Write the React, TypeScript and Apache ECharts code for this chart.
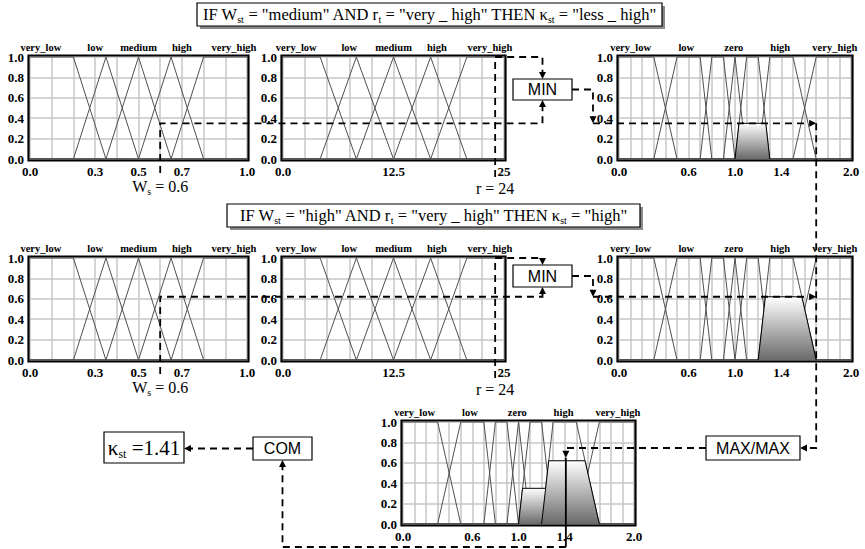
import React, { useEffect, useRef } from "react";
import * as echarts from "echarts";

// ---------------- data ----------------
const wTerms = ["very_low", "low", "medium", "high", "very_high"];
const wTermPos = [0.05, 0.3, 0.5, 0.7, 0.94];
const wMF = [
  [0, 0, 0.2, 0.35],
  [0.2, 0.35, 0.35, 0.5],
  [0.35, 0.5, 0.5, 0.65],
  [0.5, 0.65, 0.65, 0.8],
  [0.65, 0.8, 1, 1],
];
const wTickValues = [0, 0.3, 0.5, 0.7, 1];
const wTickLabels = ["0.0", "0.3", "0.5", "0.7", "1.0"];

const rTerms = ["very_low", "low", "medium", "high", "very_high"];
const rTermPos = [1.5, 7.5, 12.5, 17.4, 23.4];
const rMF = [
  [0, 0, 4.2, 8.3],
  [4.2, 8.3, 8.3, 12.5],
  [8.3, 12.5, 12.5, 16.7],
  [12.5, 16.7, 16.7, 20.8],
  [16.7, 20.8, 25, 25],
];
const rTickValues = [0, 12.5, 25];
const rTickLabels = ["0.0", "12.5", "25"];

const kTerms = ["very_low", "low", "zero", "high", "very_high"];
const kTermPos = [0.1, 0.58, 0.99, 1.39, 1.86];
const kSets = ["very_low", "low", "less_low", "zero", "less_high", "high", "very_high"];
const kMF = [
  [0, 0, 0.3, 0.5],
  [0.3, 0.5, 0.7, 0.8],
  [0.7, 0.8, 0.9, 1.0],
  [0.9, 1.0, 1.0, 1.1],
  [1.0, 1.1, 1.2, 1.3],
  [1.2, 1.3, 1.5, 1.7],
  [1.5, 1.7, 2, 2],
];
const kTickValues = [0, 0.6, 1.0, 1.4, 2.0];
const kTickLabels = ["0.0", "0.6", "1.0", "1.4", "2.0"];

const wInput = 0.6;
const rInput = 24;
const ruleOutputs = ["less_high", "high"];
const ruleStrength = [0.35, 0.62];
const kappaResult = 1.41;

const ruleTexts = [
  'IF W{s|st} = "medium" AND r{s|t} = "very _ high" THEN κ{s|st} = "less _ high"',
  'IF W{s|st} = "high" AND r{s|t} = "very _ high" THEN κ{s|st} = "high"',
];

// ---------------- layout ----------------
const SERIF = "'Liberation Serif', 'Times New Roman', serif";
const SANS = "'Liberation Sans', Arial, sans-serif";

const grids = [
  { left: 30, top: 57, width: 217, height: 102 },
  { left: 283, top: 57, width: 221, height: 102 },
  { left: 619, top: 57, width: 232, height: 102 },
  { left: 30, top: 258, width: 217, height: 102 },
  { left: 283, top: 258, width: 221, height: 102 },
  { left: 619, top: 258, width: 232, height: 102 },
  { left: 403, top: 422, width: 231, height: 102 },
];
const gridKind = ["w", "r", "k", "w", "r", "k", "k"];

const kinds: any = {
  w: { mf: wMF, max: 1, interval: 0.1, tv: wTickValues, tl: wTickLabels, terms: wTerms, pos: wTermPos },
  r: { mf: rMF, max: 25, interval: 2.5, tv: rTickValues, tl: rTickLabels, terms: rTerms, pos: rTermPos },
  k: { mf: kMF, max: 2, interval: 0.1, tv: kTickValues, tl: kTickLabels, terms: kTerms, pos: kTermPos },
};

const ruleBoxes = [
  { x: 197, y: 3, w: 465, h: 23 },
  { x: 227, y: 204, w: 413, h: 23 },
];
const minBoxes = [
  { x: 513, y: 79, w: 59, h: 21 },
  { x: 513, y: 265, w: 59, h: 22 },
];
const maxBox = { x: 706, y: 436, w: 94, h: 24 };
const comBox = { x: 253, y: 437, w: 59, h: 23 };
const kapBox = { x: 104, y: 432, w: 80, h: 31 };
const turnX = 593;

// ---------------- helpers ----------------
function mu(x: number, p: number[]) {
  const [a, b, c, d] = p;
  if (x < a || x > d) return 0;
  if (x >= b && x <= c) return 1;
  if (x < b) return (x - a) / (b - a);
  return (d - x) / (d - c);
}
function mfLine(p: number[], min: number, max: number) {
  const xs = Array.from(new Set([min, ...p, max]))
    .filter((v) => v >= min && v <= max)
    .sort((u, v) => u - v);
  return xs.map((x) => [x, mu(x, p)]);
}
function clipped(p: number[], alpha: number) {
  const [a, b, c, d] = p;
  return [
    [a, 0],
    [a + alpha * (b - a), alpha],
    [d - alpha * (d - c), alpha],
    [d, 0],
  ];
}

const dashStyle = { stroke: "#000", lineWidth: 1.8, lineDash: [7, 5], fill: "none" };
function dline(points: number[][]) {
  return { type: "polyline", z: 100, shape: { points }, style: { ...dashStyle } };
}
function sline(points: number[][]) {
  return { type: "polyline", z: 100, shape: { points }, style: { stroke: "#000", lineWidth: 1.8, fill: "none" } };
}
function arrow(x: number, y: number, dir: string) {
  const L = 7,
    H = 3.5;
  let pts: number[][] = [];
  if (dir === "down") pts = [[x, y], [x - H, y - L], [x + H, y - L]];
  if (dir === "up") pts = [[x, y], [x - H, y + L], [x + H, y + L]];
  if (dir === "right") pts = [[x, y], [x - L, y - H], [x - L, y + H]];
  if (dir === "left") pts = [[x, y], [x + L, y - H], [x + L, y + H]];
  return { type: "polygon", z: 101, shape: { points: pts }, style: { fill: "#000" } };
}
function boxRect(b: any, shadow = false) {
  const out: any[] = [];
  if (shadow)
    out.push({ type: "rect", z: 99, shape: { x: b.x + 3, y: b.y + 3, width: b.w, height: b.h }, style: { fill: "#8a8a8a" } });
  out.push({ type: "rect", z: 100, shape: { x: b.x, y: b.y, width: b.w, height: b.h }, style: { fill: "#fff", stroke: "#000", lineWidth: 1.2 } });
  return out;
}
function richText(x: number, y: number, text: string, size: number, sub: number, family = SERIF, align = "center") {
  return {
    type: "text",
    z: 102,
    x,
    y,
    style: {
      text,
      fontFamily: family,
      fontSize: size,
      fill: "#000",
      align,
      verticalAlign: "middle",
      lineHeight: size + 4,
      rich: {
        s: { fontFamily: family, fontSize: sub, fill: "#000", verticalAlign: "bottom", lineHeight: sub },
      },
    },
  };
}

export default function App() {
  const ref = useRef<HTMLDivElement>(null);
  useEffect(() => {
    const chart = echarts.init(ref.current!, undefined, { renderer: "svg" });

    const xAxis: any[] = [];
    const yAxis: any[] = [];
    const series: any[] = [];
    const gridOpt: any[] = [];

    grids.forEach((g, gi) => {
      const K = kinds[gridKind[gi]];
      gridOpt.push({ ...g, show: false, containLabel: false });
      xAxis.push({
        type: "value",
        gridIndex: gi,
        min: 0,
        max: K.max,
        interval: K.interval,
        axisLine: { show: false },
        axisTick: { show: false },
        splitLine: { show: true, lineStyle: { color: "#c6c6c6", width: 1.5 } },
        axisLabel: {
          margin: 6,
          color: "#000",
          fontFamily: SERIF,
          fontWeight: "bold",
          fontSize: 13,
          showMinLabel: true,
          showMaxLabel: true,
          formatter: (v: number) => {
            const i = K.tv.findIndex((t: number) => Math.abs(t - v) < 1e-6);
            return i >= 0 ? K.tl[i] : "";
          },
        },
      });
      yAxis.push({
        type: "value",
        gridIndex: gi,
        min: 0,
        max: 1,
        interval: 0.2,
        axisLine: { show: false },
        axisTick: { show: false },
        splitLine: { show: true, lineStyle: { color: "#c6c6c6", width: 1.5 } },
        axisLabel: {
          margin: 6,
          color: "#000",
          fontFamily: SERIF,
          fontWeight: "bold",
          fontSize: 13,
          formatter: (v: number) => v.toFixed(1),
        },
      });
      K.mf.forEach((p: number[], mi: number) => {
        series.push({
          type: "line",
          name: `g${gi}-mf${mi}`,
          xAxisIndex: gi,
          yAxisIndex: gi,
          data: mfLine(p, 0, K.max),
          symbol: "none",
          clip: false,
          silent: true,
          z: 2,
          lineStyle: { color: "#505050", width: 1 },
        });
      });
    });

    // shaded (clipped) consequents
    const shaded: [number, number][] = [
      [2, 0],
      [5, 1],
      [6, 0],
      [6, 1],
    ];
    shaded.forEach(([gi, ri], n) => {
      const p = kMF[kSets.indexOf(ruleOutputs[ri])];
      series.push({
        type: "line",
        name: `shade${n}`,
        xAxisIndex: gi,
        yAxisIndex: gi,
        data: clipped(p, ruleStrength[ri]),
        symbol: "none",
        silent: true,
        z: 3 + n,
        lineStyle: { color: "#000", width: 1 },
        areaStyle: {
          opacity: 1,
          color: new echarts.graphic.LinearGradient(0, 0, 0, 1, [
            { offset: 0, color: "#ffffff" },
            { offset: 1, color: "#6a6a6a" },
          ]),
        },
      });
    });

    chart.setOption({
      animation: false,
      backgroundColor: "#fff",
      textStyle: { fontFamily: SERIF },
      grid: gridOpt,
      xAxis,
      yAxis,
      series,
    });

    const P = (g: number, x: number, y: number) => chart.convertToPixel({ gridIndex: g }, [x, y]) as number[];
    const els: any[] = [];

    // frames and term labels
    grids.forEach((g, gi) => {
      const K = kinds[gridKind[gi]];
      els.push({
        type: "rect",
        z: 1,
        shape: { x: g.left - 1.5, y: g.top - 1.5, width: g.width + 3, height: g.height + 3 },
        style: { fill: "none", stroke: "#000", lineWidth: 2.2 },
      });
      K.terms.forEach((t: string, i: number) => {
        const [lx, ly] = P(gi, K.pos[i], 1);
        els.push({
          type: "text",
          z: 50,
          x: lx,
          y: ly - 10,
          style: { text: t, fontFamily: SERIF, fontWeight: "bold", fontSize: 10.5, fill: "#000", align: "center", verticalAlign: "middle" },
        });
      });
    });

    // rule boxes
    ruleTexts.forEach((t, i) => {
      const b = ruleBoxes[i];
      els.push(...boxRect(b, true));
      els.push(richText(b.x + b.w / 2, b.y + b.h / 2, t, 16.5, 10));
    });

    const aggX = P(2, kMF[kSets.indexOf(ruleOutputs[1])][3], 0)[0];
    const maxMidY = maxBox.y + maxBox.h / 2;
    let firstKy = 0;

    [0, 1].forEach((i) => {
      const gW = i * 3,
        gR = i * 3 + 1,
        gK = i * 3 + 2;
      const a = ruleStrength[i];
      const mb = minBoxes[i];
      const mcx = mb.x + mb.w / 2;
      const [wx, wy] = P(gW, wInput, a);
      const wb = P(gW, wInput, 0)[1];
      els.push(dline([[wx, wb + 14], [wx, wy], [mcx, wy], [mcx, mb.y + mb.h + 6]]));
      els.push(arrow(mcx, mb.y + mb.h, "up"));
      const [rx, ry] = P(gR, rInput, 1);
      const rb = P(gR, rInput, 0)[1];
      els.push(dline([[rx, rb + 18], [rx, ry], [mcx, ry], [mcx, mb.y - 5]]));
      els.push(arrow(mcx, mb.y, "down"));
      // input labels
      els.push(richText(wx, wb + 27, "W{s|s} = 0.6", 16, 10));
      els.push(richText(rx, rb + 29, "r = 24", 16, 10));
      // MIN boxes
      els.push(...boxRect(mb));
      els.push({
        type: "text",
        z: 102,
        x: mcx,
        y: mb.y + mb.h / 2,
        style: { text: "MIN", fontFamily: SANS, fontSize: 16, fill: "#000", align: "center", verticalAlign: "middle" },
      });
      // to consequent
      const ky = P(gK, 0, a)[1];
      if (i === 0) firstKy = ky;
      const my = mb.y + mb.h / 2;
      els.push(dline([[mb.x + mb.w, my], [turnX, my], [turnX, ky - 5]]));
      els.push(arrow(turnX, ky, "down"));
      els.push(dline([[turnX, ky], [aggX - 5, ky]]));
      els.push(arrow(aggX, ky, "right"));
    });

    // aggregation
    els.push(dline([[aggX, firstKy], [aggX, maxMidY], [maxBox.x + maxBox.w + 5, maxMidY]]));
    els.push(arrow(maxBox.x + maxBox.w, maxMidY, "left"));
    els.push(...boxRect(maxBox));
    els.push({
      type: "text",
      z: 102,
      x: maxBox.x + maxBox.w / 2,
      y: maxMidY,
      style: { text: "MAX/MAX", fontFamily: SANS, fontSize: 16, fill: "#000", align: "center", verticalAlign: "middle" },
    });

    // centroid
    const cx = P(6, kappaResult, 0)[0];
    const cb = P(6, kappaResult, 0)[1];
    const tipY = P(6, kappaResult, Math.max(...ruleStrength))[1] - 3;
    els.push(dline([[maxBox.x, maxMidY], [cx, maxMidY], [cx, tipY - 5]]));
    els.push(arrow(cx, tipY, "down"));
    els.push(sline([[cx, tipY], [cx, cb + 23]]));
    const comCx = comBox.x + comBox.w / 2;
    const comMid = comBox.y + comBox.h / 2;
    els.push(dline([[cx, cb + 23], [comCx, cb + 23], [comCx, comBox.y + comBox.h + 5]]));
    els.push(arrow(comCx, comBox.y + comBox.h, "up"));
    els.push(...boxRect(comBox));
    els.push({
      type: "text",
      z: 102,
      x: comCx,
      y: comMid,
      style: { text: "COM", fontFamily: SANS, fontSize: 16, fill: "#000", align: "center", verticalAlign: "middle" },
    });
    els.push(dline([[comBox.x, comMid], [kapBox.x + kapBox.w + 5, comMid]]));
    els.push(arrow(kapBox.x + kapBox.w, comMid, "left"));
    els.push(...boxRect(kapBox));
    els.push(richText(kapBox.x + kapBox.w / 2, kapBox.y + kapBox.h / 2, "κ{s|st} =" + kappaResult.toFixed(2), 21, 12));

    chart.setOption({ graphic: { elements: els } });

    return () => chart.dispose();
  }, []);

  return (
    <div
      ref={ref}
      style={{ position: "absolute", left: 0, top: 0, width: 865, height: 549, background: "#fff" }}
    />
  );
}
